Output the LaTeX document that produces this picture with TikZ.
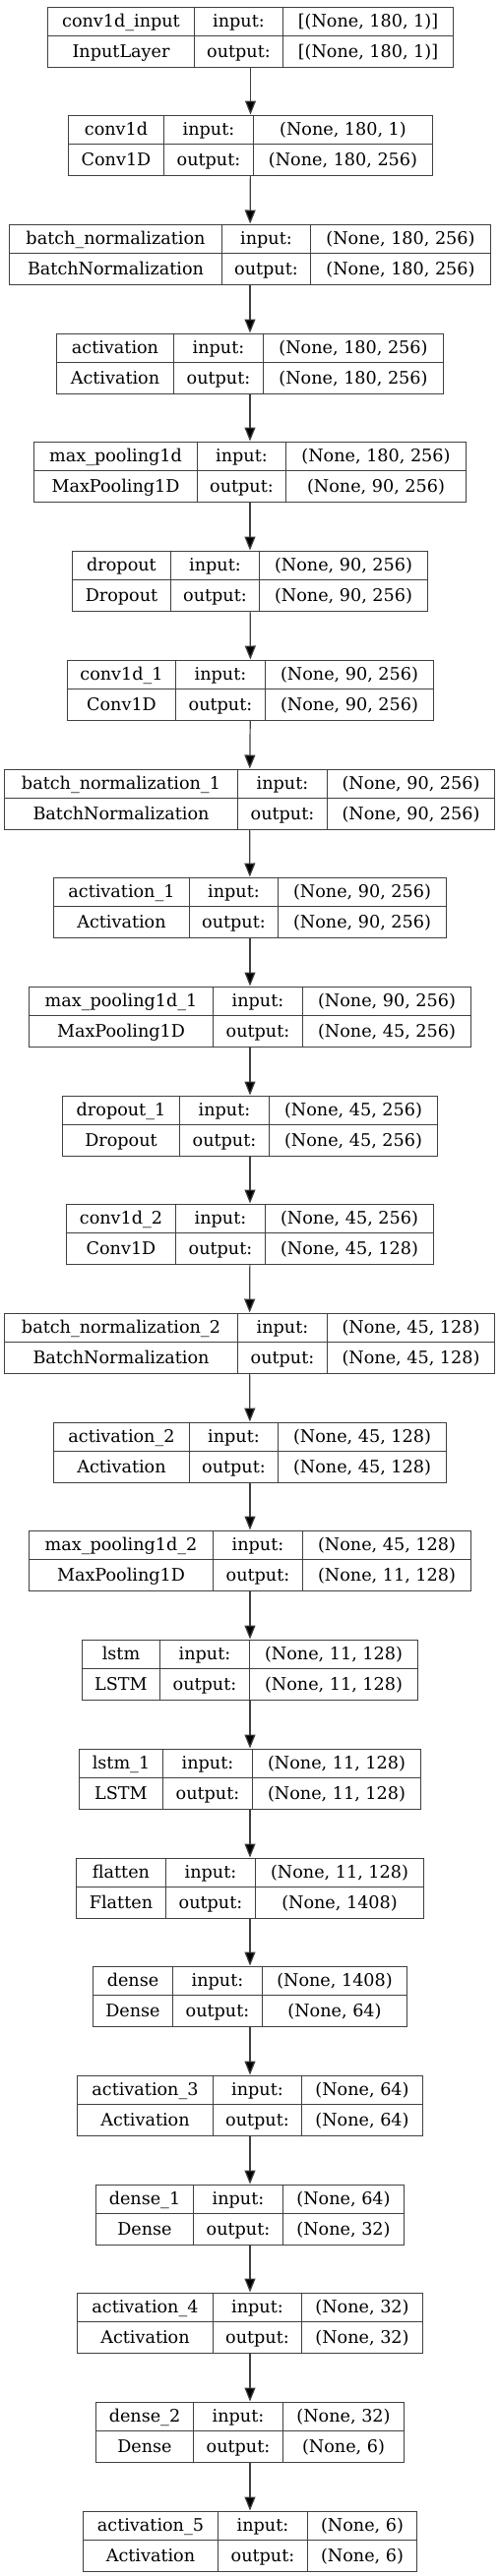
\documentclass[tikz,border=0pt]{standalone}
\usepackage{fontspec}
\setmainfont{DejaVu Serif}
\usetikzlibrary{arrows.meta,positioning}

\definecolor{rulegray}{HTML}{404040}

\tikzset{
  layerbox/.style={shape=rectangle, draw=rulegray, line width=1.2pt, minimum height=61pt, inner sep=0pt},
  celltext/.style={inner sep=0pt, text height=13pt, text depth=1pt, font=\fontsize{17.6}{17.6}\selectfont},
  flow/.style={draw=rulegray, line width=1.2pt, -{Triangle[length=14pt,width=11pt]}}
}

\newcommand{\setcols}[4]{\def\xa{#1}\def\xb{#2}\def\xc{#3}\def\xd{#4}}
\newcommand{\layer}[6]{%
  \pgfmathsetmacro\ytop{round(5.7+110.7*(#2-1))+0.5}
  \node[layerbox, minimum width={(\xd-\xa)*1pt}, anchor=north] (#1) at ({(\xa+\xd)/2},\ytop) {};
  \draw[rulegray, line width=1.2pt] (\xa,\ytop+30) -- (\xd,\ytop+30)
       (\xb,\ytop) -- (\xb,\ytop+61) (\xc,\ytop) -- (\xc,\ytop+61);
  \node[celltext] (#1-name)   at ({(\xa+\xb)/2},\ytop+15) {#3};
  \node[celltext] (#1-kind)   at ({(\xa+\xb)/2},\ytop+45.5) {#4};
  \node[celltext] (#1-inlab)  at ({(\xb+\xc)/2},\ytop+15) {input:};
  \node[celltext] (#1-outlab) at ({(\xb+\xc)/2},\ytop+45.5) {output:};
  \node[celltext] (#1-inval)  at ({(\xc+\xd)/2},\ytop+15) {#5};
  \node[celltext] (#1-outval) at ({(\xc+\xd)/2},\ytop+45.5) {#6};
}

\begin{document}
\begin{tikzpicture}[x=1pt, y=-1pt]
  \useasboundingbox (0,0) rectangle (508,2619);

  \setcols{48.5}{197.5}{287.5}{460.5}
  \layer{inp}{1}{conv1d\_input}{InputLayer}{[(None, 180, 1)]}{[(None, 180, 1)]}
  \setcols{69.5}{166.5}{257.5}{439.5}
  \layer{conv}{2}{conv1d}{Conv1D}{(None, 180, 1)}{(None, 180, 256)}
  \setcols{9.5}{225.5}{315.5}{498.5}
  \layer{bn}{3}{batch\_normalization}{BatchNormalization}{(None, 180, 256)}{(None, 180, 256)}
  \setcols{57.5}{176.5}{267.5}{450.5}
  \layer{act}{4}{activation}{Activation}{(None, 180, 256)}{(None, 180, 256)}
  \setcols{34.5}{200.5}{290.5}{473.5}
  \layer{pool}{5}{max\_pooling1d}{MaxPooling1D}{(None, 180, 256)}{(None, 90, 256)}
  \setcols{73.5}{173.5}{263.5}{434.5}
  \layer{drop}{6}{dropout}{Dropout}{(None, 90, 256)}{(None, 90, 256)}
  \setcols{68.5}{178.5}{269.5}{440.5}
  \layer{convA}{7}{conv1d\_1}{Conv1D}{(None, 90, 256)}{(None, 90, 256)}
  \setcols{4.5}{241.5}{332.5}{502.5}
  \layer{bnA}{8}{batch\_normalization\_1}{BatchNormalization}{(None, 90, 256)}{(None, 90, 256)}
  \setcols{54.5}{192.5}{282.5}{453.5}
  \layer{actA}{9}{activation\_1}{Activation}{(None, 90, 256)}{(None, 90, 256)}
  \setcols{29.5}{216.5}{307.5}{478.5}
  \layer{poolA}{10}{max\_pooling1d\_1}{MaxPooling1D}{(None, 90, 256)}{(None, 45, 256)}
  \setcols{63.5}{182.5}{273.5}{444.5}
  \layer{dropA}{11}{dropout\_1}{Dropout}{(None, 45, 256)}{(None, 45, 256)}
  \setcols{67.5}{178.5}{269.5}{440.5}
  \layer{convB}{12}{conv1d\_2}{Conv1D}{(None, 45, 256)}{(None, 45, 128)}
  \setcols{4.5}{241.5}{332.5}{502.5}
  \layer{bnB}{13}{batch\_normalization\_2}{BatchNormalization}{(None, 45, 128)}{(None, 45, 128)}
  \setcols{54.5}{192.5}{282.5}{453.5}
  \layer{actB}{14}{activation\_2}{Activation}{(None, 45, 128)}{(None, 45, 128)}
  \setcols{29.5}{216.5}{307.5}{478.5}
  \layer{poolB}{15}{max\_pooling1d\_2}{MaxPooling1D}{(None, 45, 128)}{(None, 11, 128)}
  \setcols{83.5}{162.5}{253.5}{424.5}
  \layer{lstm}{16}{lstm}{LSTM}{(None, 11, 128)}{(None, 11, 128)}
  \setcols{80.5}{165.5}{256.5}{427.5}
  \layer{lstmA}{17}{lstm\_1}{LSTM}{(None, 11, 128)}{(None, 11, 128)}
  \setcols{77.5}{168.5}{259.5}{430.5}
  \layer{flat}{18}{flatten}{Flatten}{(None, 11, 128)}{(None, 1408)}
  \setcols{94.5}{175.5}{266.5}{413.5}
  \layer{dense}{19}{dense}{Dense}{(None, 1408)}{(None, 64)}
  \setcols{78.5}{216.5}{306.5}{429.5}
  \layer{actC}{20}{activation\_3}{Activation}{(None, 64)}{(None, 64)}
  \setcols{97.5}{196.5}{287.5}{410.5}
  \layer{denseA}{21}{dense\_1}{Dense}{(None, 64)}{(None, 32)}
  \setcols{78.5}{216.5}{306.5}{429.5}
  \layer{actD}{22}{activation\_4}{Activation}{(None, 32)}{(None, 32)}
  \setcols{97.5}{196.5}{287.5}{410.5}
  \layer{denseB}{23}{dense\_2}{Dense}{(None, 32)}{(None, 6)}
  \setcols{84.5}{221.5}{312.5}{423.5}
  \layer{actE}{24}{activation\_5}{Activation}{(None, 6)}{(None, 6)}

  \path [flow] (inp) edge (conv);
  \path [flow] (conv) edge (bn);
  \path [flow] (bn) edge (act);
  \path [flow] (act) edge (pool);
  \path [flow] (pool) edge (drop);
  \path [flow] (drop) edge (convA);
  \path [flow] (convA) edge (bnA);
  \path [flow] (bnA) edge (actA);
  \path [flow] (actA) edge (poolA);
  \path [flow] (poolA) edge (dropA);
  \path [flow] (dropA) edge (convB);
  \path [flow] (convB) edge (bnB);
  \path [flow] (bnB) edge (actB);
  \path [flow] (actB) edge (poolB);
  \path [flow] (poolB) edge (lstm);
  \path [flow] (lstm) edge (lstmA);
  \path [flow] (lstmA) edge (flat);
  \path [flow] (flat) edge (dense);
  \path [flow] (dense) edge (actC);
  \path [flow] (actC) edge (denseA);
  \path [flow] (denseA) edge (actD);
  \path [flow] (actD) edge (denseB);
  \path [flow] (denseB) edge (actE);
\end{tikzpicture}
\end{document}
